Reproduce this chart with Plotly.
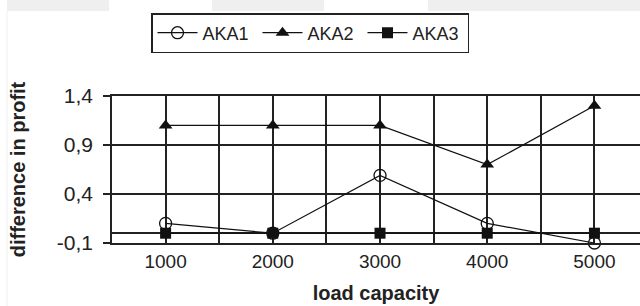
import plotly.graph_objects as go

# ---- data ----
load_capacity = [1000, 2000, 3000, 4000, 5000]
tick_labels = ["1000", "2000", "3000", "4000", "5000"]
aka1 = [0.10, 0.00, 0.59, 0.10, -0.10]
aka2 = [1.10, 1.10, 1.10, 0.70, 1.30]
aka3 = [0.00, 0.00, 0.00, 0.00, 0.00]
y_ticks = [-0.1, 0.4, 0.9, 1.4]
y_tick_labels = ["-0,1", "0,4", "0,9", "1,4"]

W, H = 640, 306
L, R, T, B = 112, 0, 96, 63
FONT = "Arial, Liberation Sans, sans-serif"

fig = go.Figure()
common = dict(mode="lines+markers", line=dict(color="#111", width=1.2), cliponaxis=False)
fig.add_trace(go.Scatter(x=load_capacity, y=aka1, name="AKA1",
                         marker=dict(symbol="circle-open", size=12, color="#111", line=dict(width=1.3)),
                         **common))
fig.add_trace(go.Scatter(x=load_capacity, y=aka2, name="AKA2",
                         marker=dict(symbol="triangle-up", size=12, color="#111"),
                         **common))
fig.add_trace(go.Scatter(x=load_capacity, y=aka3, name="AKA3",
                         marker=dict(symbol="square", size=11, color="#111"),
                         **common))

pw = W - L - R
ph = H - T - B
def px_x(p):
    return (p - L) / pw
def px_y(p):
    return (H - B - p) / ph

shapes = []
for x0, x1 in [(7, 109), (212, 324), (428, 640)]:
    shapes.append(dict(type="rect", xref="paper", yref="paper",
                       x0=px_x(x0), x1=px_x(x1), y0=px_y(11), y1=px_y(0),
                       fillcolor="#efefef", line=dict(width=0), layer="below"))
shapes.append(dict(type="line", xref="paper", yref="paper",
                   x0=px_x(7), x1=px_x(7), y0=px_y(306), y1=px_y(11),
                   line=dict(color="#f0f0f0", width=1), layer="below"))

fig.update_layout(
    width=W, height=H,
    margin=dict(l=L, r=R, t=T, b=B),
    paper_bgcolor="white", plot_bgcolor="white",
    font=dict(family=FONT, size=18, color="#222"),
    shapes=shapes,
    showlegend=True,
    legend=dict(orientation="h", x=px_x(151), y=px_y(13), xanchor="left", yanchor="top",
                bordercolor="#222", borderwidth=1.5, bgcolor="white",
                font=dict(size=18, color="#222"), itemwidth=40,
                entrywidth=50, entrywidthmode="pixels",
                tracegroupgap=0),
    xaxis=dict(range=[500, 5425], tickvals=load_capacity, ticktext=tick_labels,
               showgrid=True, gridcolor="#222", gridwidth=1.5,
               minor=dict(tickvals=[1500, 2500, 3500, 4500], showgrid=True,
                          gridcolor="#222", gridwidth=1.5),
               showline=True, linecolor="#222", linewidth=1.5, mirror=True,
               zeroline=False, ticks="", ticklabelstandoff=0,
               tickfont=dict(size=19),
               title=dict(text="<b>load capacity</b>", font=dict(size=20), standoff=15)),
    yaxis=dict(range=[-0.1, 1.4], tickvals=y_ticks, ticktext=y_tick_labels,
               showgrid=True, gridcolor="#222", gridwidth=1.5,
               zeroline=True, zerolinecolor="#222", zerolinewidth=1.5,
               showline=True, linecolor="#222", linewidth=1.5,
               ticks="outside", ticklen=7, tickcolor="#222", tickwidth=1.5,
               tickfont=dict(size=21), ticklabelstandoff=6,
               title=dict(text="<b>difference in profit</b>", font=dict(size=20), standoff=26)),
)

fig.write_html("out.html", config={"displayModeBar": False},
               post_script="document.body.style.margin='0';document.body.style.overflow='hidden';")
